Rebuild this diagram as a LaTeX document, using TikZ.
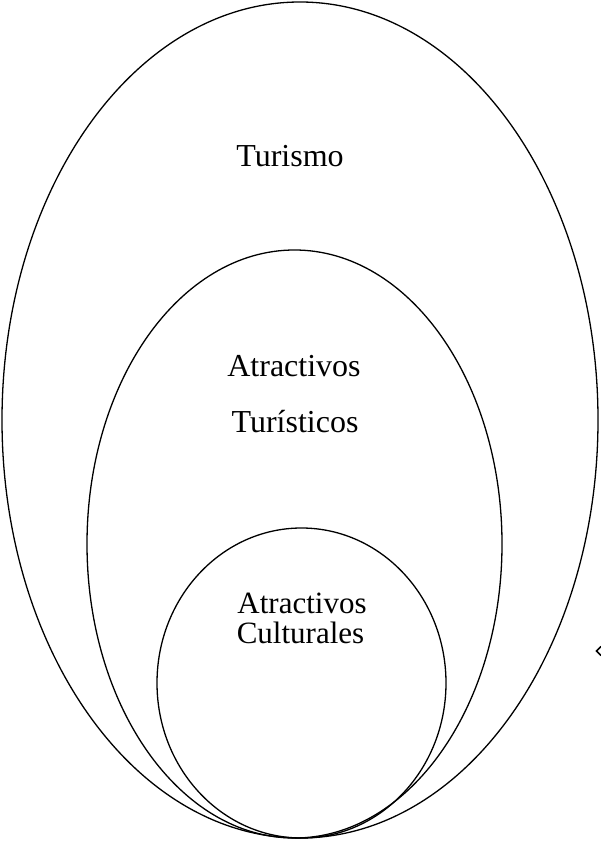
\documentclass[tikz,border=0pt]{standalone}
\usepackage{fontspec}
\setmainfont{Liberation Serif}
\begin{document}
\begin{tikzpicture}[x=1pt,y=-1pt,
  ring/.style={draw=black,line width=1.3pt},
  label/.style={anchor=base,inner sep=0pt,font=\fontsize{32}{38}\selectfont}]
\useasboundingbox (0,0) rectangle (601,843);
\fill[white] (0,0) rectangle (601,843);
% nested sets
\draw[ring] (300,420) ellipse [x radius=298, y radius=418];
\draw[ring] (294.5,544) ellipse [x radius=207.5, y radius=294];
\draw[ring] (301.5,683) ellipse [x radius=144.5, y radius=155];
% labels
\node[label] (tur) at (290,166) {Turismo};
\node[label] (at1) at (294,376) {Atractivos};
\node[label] (at2) at (295,432) {Turísticos};
\node[label,font=\fontsize{31}{37}\selectfont] (ac1) at (302,613) {Atractivos};
\node[label,font=\fontsize{31}{37}\selectfont] (ac2) at (300.5,643) {Culturales};
% stray arrow tip at the right border
\coordinate (tipA) at (601,646.5);
\coordinate (tip) at (596.5,651);
\coordinate (tipB) at (601,655.5);
\draw[line width=1.6pt] (tipA) -- (tip) -- (tipB);
\end{tikzpicture}
\end{document}
